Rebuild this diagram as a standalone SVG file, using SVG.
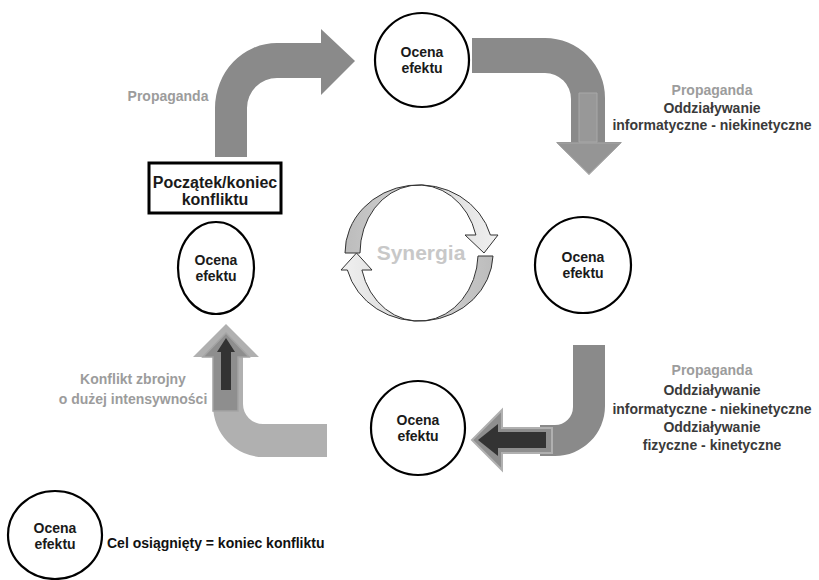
<svg xmlns="http://www.w3.org/2000/svg" width="819" height="580" viewBox="0 0 819 580">
  <defs>
    <linearGradient id="ringTop" x1="0" y1="0" x2="1" y2="0">
      <stop offset="0" stop-color="#bcbcbc"/>
      <stop offset="1" stop-color="#f0f0f0"/>
    </linearGradient>
    <linearGradient id="ringBottom" x1="0" y1="0" x2="1" y2="0">
      <stop offset="0" stop-color="#f0f0f0"/>
      <stop offset="1" stop-color="#bcbcbc"/>
    </linearGradient>
  </defs>
  <style>
    text { font-family: "Liberation Sans", Arial, sans-serif; font-weight: bold; text-anchor: middle; }
    .node circle, .node ellipse { fill: #fff; stroke: #000; stroke-width: 2.2; }
    .node text { font-size: 14px; fill: #1a1a1a; }
    .lbl-gray { fill: #9c9c9c; font-size: 14px; }
    .lbl-dark { fill: #3a3a3a; font-size: 14px; }
    .band { fill: #8a8a8a; }
    .band-light { fill: #b0b0b0; }
    .ring { stroke: #333; stroke-width: 1; }
  </style>

  <!-- Connectors: the four large cycle arrows -->
  <g id="connectors">
    <!-- up, then right to the top node -->
    <path class="band" d="M215,157 L215,108 A62,65 0 0 1 277,43 L321,43 L321,29 L355,61 L321,95 L321,78 L277,78 A30,30 0 0 0 247,108 L247,157 Z"/>

    <!-- right, then down to the right node -->
    <path class="band" d="M472,38 L545,38 A60,60 0 0 1 605,98 L605,142 L622,142 L589,175 L556,142 L571,142 L571,99 A26,26 0 0 0 545,73 L472,73 Z"/>
    <path d="M579,93 L597,93 L597,142 L579,142 Z" fill="#989898" stroke="#a8a8a8" stroke-width="1"/>
    <path d="M557,143 L621,143 L589,174 Z" fill="#959595" stroke="#a8a8a8" stroke-width="1"/>

    <!-- down, then left to the bottom node -->
    <path class="band" d="M573,345 L605,345 L605,406 A50,50 0 0 1 555,456 L540,456 L540,425 L555,425 A18,18 0 0 0 573,407 Z"/>
    <path d="M552,428 L552,453 L502,453 L502,470 L472,440 L502,410 L502,428 Z" fill="#8e8e8e" stroke="#b0b0b0" stroke-width="2"/>
    <path d="M546,432 L546,448 L498,448 L498,456 L478,440 L498,424 L498,432 Z" fill="#333"/>

    <!-- left, then up to the left node -->
    <path class="band-light" d="M327,424 L327,457 L263,457 A50,52 0 0 1 213,405 L213,357 L193,357 L226,324 L259,357 L243,357 L243,404 A20,20 0 0 0 263,424 Z"/>
    <path d="M213,411 L213,357 L203,357 L226,333 L249,357 L238,357 L238,411 Z" fill="#8e8e8e" stroke="#a4a4a4" stroke-width="1.5"/>
    <path d="M221,390 L221,352 L217,352 L226,338 L235,352 L231,352 L231,390 Z" fill="#333"/>
  </g>

  <!-- Synergy ring in the centre -->
  <g id="synergia">
    <path class="ring" fill="url(#ringTop)" d="M345,253 A74,68 0 0 1 490.4,235 L498,235 L484,253 L465,235 L475.9,235 A59,68 0 0 0 360,253 Z"/>
    <path class="ring" fill="url(#ringBottom)" d="M493,256 A74,68 0 0 1 347.4,270 L341,270 L356.5,253 L372,270 L361.9,270 A59,68 0 0 0 478,256 Z"/>
    <text x="421" y="260" font-size="21" fill="#c8c8c8">Synergia</text>
  </g>

  <!-- Start / end box -->
  <g id="start" class="node">
    <rect x="149" y="163" width="132" height="50" fill="#fff" stroke="#000" stroke-width="3"/>
    <text x="215" y="188" style="font-size:16px">Początek/koniec</text>
    <text x="215" y="205" style="font-size:16px">konfliktu</text>
  </g>

  <!-- Assessment nodes -->
  <g id="ocena-top" class="node">
    <circle cx="422" cy="60" r="47"/>
    <text x="422" y="57">Ocena</text>
    <text x="422" y="73">efektu</text>
  </g>
  <g id="ocena-right" class="node">
    <circle cx="583" cy="265" r="48"/>
    <text x="583" y="262">Ocena</text>
    <text x="583" y="278">efektu</text>
  </g>
  <g id="ocena-bottom" class="node">
    <circle cx="418" cy="428" r="47"/>
    <text x="418" y="425">Ocena</text>
    <text x="418" y="441">efektu</text>
  </g>
  <g id="ocena-left" class="node">
    <ellipse cx="216" cy="268" rx="38" ry="46"/>
    <text x="216" y="265">Ocena</text>
    <text x="216" y="281">efektu</text>
  </g>
  <g id="ocena-end" class="node">
    <ellipse cx="55" cy="535" rx="47" ry="44"/>
    <text x="55" y="533">Ocena</text>
    <text x="55" y="549">efektu</text>
  </g>

  <!-- Phase labels -->
  <g id="labels">
    <text class="lbl-gray" x="168" y="101">Propaganda</text>

    <text class="lbl-gray" x="712" y="95">Propaganda</text>
    <text class="lbl-dark" x="712" y="113">Oddziaływanie</text>
    <text class="lbl-dark" x="712" y="130">informatyczne - niekinetyczne</text>

    <text class="lbl-gray" x="712" y="375">Propaganda</text>
    <text class="lbl-dark" x="712" y="395">Oddziaływanie</text>
    <text class="lbl-dark" x="712" y="414">informatyczne - niekinetyczne</text>
    <text class="lbl-dark" x="712" y="432">Oddziaływanie</text>
    <text class="lbl-dark" x="712" y="450">fizyczne - kinetyczne</text>

    <text class="lbl-gray" x="133" y="384">Konflikt zbrojny</text>
    <text class="lbl-gray" x="133" y="404">o dużej intensywności</text>

    <text x="107" y="548" font-size="14" fill="#111" style="text-anchor:start">Cel osiągnięty = koniec konfliktu</text>
  </g>
</svg>
